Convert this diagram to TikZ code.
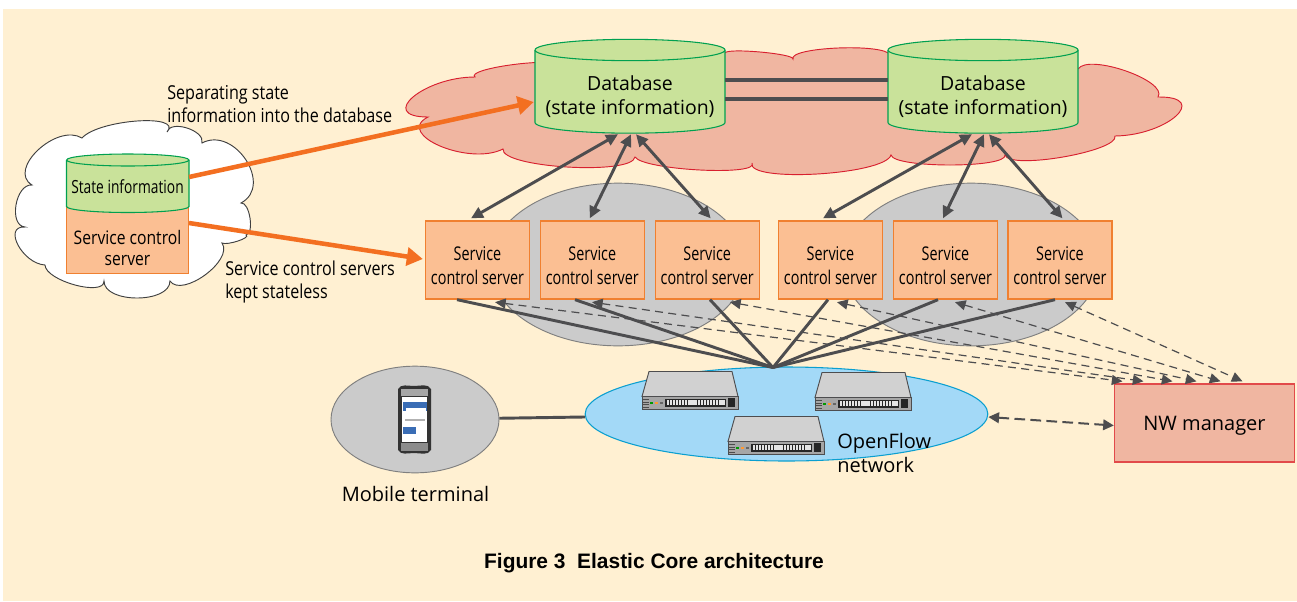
\documentclass[tikz,border=0pt]{standalone}
\usepackage{fontspec}
\setmainfont{Open Sans}
\newfontfamily\condf[FakeStretch=0.84]{Open Sans}
\newfontfamily\condg[FakeStretch=0.76]{Open Sans}
\newfontfamily\capf{Liberation Sans}
\usetikzlibrary{arrows.meta,calc,shapes.geometric}
\definecolor{cream}{HTML}{FFF0D2}
\definecolor{dbfill}{HTML}{C9E29A}
\definecolor{dbline}{HTML}{00A050}
\definecolor{srvfill}{HTML}{FBBF93}
\definecolor{srvline}{HTML}{F08030}
\definecolor{pinkfill}{HTML}{F0B6A1}
\definecolor{pinkline}{HTML}{D8202F}
\definecolor{nwline}{HTML}{E24A4A}
\definecolor{grayfill}{HTML}{CBCBCB}
\definecolor{grayline}{HTML}{7F7F7F}
\definecolor{bluefill}{HTML}{A3D9F7}
\definecolor{blueline}{HTML}{0A9FD0}
\definecolor{darkl}{HTML}{4D4D4F}
\definecolor{orangea}{HTML}{F36F21}
\definecolor{phoneblue}{HTML}{3A6DB5}
\newcommand\cbump[6]{.. controls ({#1+4/3*(#3-0.5*(#1+#5))},{#2+4/3*(#4-0.5*(#2+#6))}) and ({#5+4/3*(#3-0.5*(#1+#5))},{#6+4/3*(#4-0.5*(#2+#6))}) .. (#5,#6)}
\newcommand\dnstrut[1]{\rule{0pt}{#1}}
\newcommand\cylbody[5]{% x1,x2,ytopcentre,ybotside,ry(pt)
  \draw[cylstyle] (#1,#3) -- (#1,#4) arc[start angle=180,end angle=360,x radius={(#2-#1)*0.375pt},y radius=#5] -- (#2,#3) arc[start angle=0,end angle=180,x radius={(#2-#1)*0.375pt},y radius=#5];
  \draw[cylstyle] (#1,#3) arc[start angle=180,end angle=360,x radius={(#2-#1)*0.375pt},y radius=#5];
}
\newcommand\switchbox[2]{%
  \begin{scope}[shift={(#1,#2)}]
    \fill[draw=darkl,line width=.7pt,fill=black!18] (7,0) -- (90,0) -- (96,25) -- (0,25) -- cycle;
    \fill[draw=darkl,line width=.7pt,fill=black!35] (0,25) rectangle (96,38);
    \fill[black!85] (23,27) rectangle (84,35);
    \fill[black!85] (86,26.5) rectangle (93,35.5);
    \foreach \i in {0,...,18} {\fill[white!90!black] (24.5+\i*3.1,28.5) rectangle +(2.3,4.5);}
    \fill[green!60!black] (8,30) rectangle +(3,2);
    \fill[orange!80] (13,30) rectangle +(3,2);
    \fill[black!60] (18,30) rectangle +(3,2);
    \foreach \i in {0,...,3} {\draw[black!70,line width=.4pt] (1,28+\i*2.5) -- (7,28+\i*2.5);}
  \end{scope}
}
\tikzset{
  x=0.75pt,y=-0.75pt,
  cylstyle/.style={draw=dbline,fill=dbfill,line width=.8pt},
  cloudP/.style={draw=pinkline,fill=pinkfill,line width=.7pt},
  cloudW/.style={draw=black!75,fill=white,line width=.7pt},
  anchorbox/.style={draw=none,fill=none,inner sep=0pt,minimum width=142.5pt,minimum height=70.5pt,align=center,font=\fontsize{14.6}{18}\selectfont},
  srvbox/.style={draw=srvline,fill=srvfill,line width=1pt,inner sep=0pt,minimum width=78pt,minimum height=58.5pt,align=center,font=\condg\fontsize{14.2}{18}\selectfont},
  grayell/.style={ellipse,draw=grayline,fill=grayfill,line width=.7pt,inner sep=0pt},
  dbl/.style={draw=darkl,line width=2.2pt,{Triangle[length=9pt,width=8.5pt]}-{Triangle[length=9pt,width=8.5pt]}},
  hubl/.style={draw=darkl,line width=2.2pt},
  dashl/.style={draw=darkl,line width=.9pt,dash pattern=on 6pt off 4pt,{Triangle[length=8pt,width=7.5pt]}-{Triangle[length=8pt,width=7.5pt]}},
  oar/.style={draw=orangea,line width=3.4pt,-{Triangle[length=12pt,width=13.5pt]}},
  condtext/.style={inner sep=0pt,font=\condf\fontsize{14.4}{17.3}\selectfont},
}
\begin{document}
\begin{tikzpicture}
\useasboundingbox (0,0) rectangle (1297,601);
\fill[white] (0,0) rectangle (1297,601);
\fill[cream] (3,9) rectangle (1297,601);

% pink cloud
\draw[cloudP] (475,77) \cbump{475}{77}{510}{65}{560}{65} -- (725,53)
 \cbump{725}{53}{760}{52}{793}{59}
 \cbump{793}{59}{838}{48}{890}{55} -- (1078,69)
 \cbump{1078}{69}{1126}{71}{1158}{97}
 \cbump{1158}{97}{1176}{116}{1115}{136}
 \cbump{1115}{136}{1063}{157}{1005}{155}
 \cbump{1005}{155}{950}{165}{891}{155}
 \cbump{891}{155}{817}{174}{752}{163}
 \cbump{752}{163}{700}{170}{635}{157}
 \cbump{635}{157}{567}{167}{503}{149}
 \cbump{503}{149}{440}{146}{428}{117}
 \cbump{428}{117}{413}{97}{475}{77} -- cycle;

% white cloud
\draw[cloudW] (82,138) \cbump{82}{138}{137}{121}{167}{132}
 \cbump{167}{132}{187}{128}{202}{143}
 \cbump{202}{143}{246}{160}{241}{203}
 \cbump{241}{203}{250}{218}{246}{235}
 \cbump{246}{235}{238}{241}{222}{243}
 \cbump{222}{243}{205}{275}{170}{281}
 \cbump{170}{281}{137}{298}{104}{281}
 \cbump{104}{281}{75}{285}{45}{265}
 \cbump{45}{265}{18}{245}{25}{227}
 \cbump{25}{227}{16}{205}{32}{185}
 \cbump{32}{185}{38}{150}{82}{138} -- cycle;

% grey ellipses
\node[grayell,minimum width=192pt,minimum height=122pt] (g1) at (618,264.5) {};
\node[grayell,minimum width=192pt,minimum height=122pt] (g2) at (971,264.5) {};
\node[grayell,minimum width=126pt,minimum height=80pt] (gm) at (415,419.5) {};
\node[ellipse,draw=blueline,fill=bluefill,line width=.8pt,inner sep=0pt,minimum width=302pt,minimum height=70.5pt] (of) at (786.5,414) {};

% left stack
\node[draw=srvline,fill=srvfill,line width=.8pt,inner sep=0pt,minimum width=92pt,minimum height=50pt,align=center,font=\condf\fontsize{14}{16}\selectfont] (scs) at (127.5,240.5) {\dnstrut{22pt}Service control\\server};
\cylbody{66.5}{189}{160}{206.5}{4.5pt}
\node[inner sep=0pt,minimum width=92pt,minimum height=39pt,font=\condg\fontsize{13.6}{14}\selectfont] (si) at (127.5,183) {\dnstrut{16pt}State information};

% databases
\cylbody{535}{725}{50}{122.5}{8pt}
\cylbody{888}{1078}{50}{122.5}{8pt}
\node[anchorbox] (db1) at (630,86) {\dnstrut{27pt}Database\\(state information)};
\node[anchorbox] (db2) at (983,86) {\dnstrut{27pt}Database\\(state information)};

% servers
\node[srvbox] (s1) at (477.5,260) {\dnstrut{19pt}Service\\control server};
\node[srvbox] (s2) at (592.3,260) {\dnstrut{19pt}Service\\control server};
\node[srvbox] (s3) at (707.2,260) {\dnstrut{19pt}Service\\control server};
\node[srvbox] (s4) at (830.5,260) {\dnstrut{19pt}Service\\control server};
\node[srvbox] (s5) at (945.5,260) {\dnstrut{19pt}Service\\control server};
\node[srvbox] (s6) at (1060,260) {\dnstrut{19pt}Service\\control server};

% NW manager
\node[draw=nwline,fill=pinkfill,line width=1pt,inner sep=0pt,minimum width=135pt,minimum height=58.5pt,font=\fontsize{15}{16}\selectfont] (nw) at (1204.5,423) {\dnstrut{15pt}NW manager};

% switches
\switchbox{642}{371.5}
\switchbox{815}{372.5}
\switchbox{728}{416.5}

% phone
\fill[black!80] (398,389) to[out=60,in=180] (414,386) to[out=0,in=120] (431,389) -- (431,450) to[out=240,in=0] (414,453) to[out=180,in=300] (398,450) -- cycle;
\fill[black!35] (401,389) rectangle (428,396);
\fill[white] (402,397) rectangle (427,442);
\fill[phoneblue] (402.5,402) rectangle (426.5,411);
\fill[white] (406,407.5) rectangle (426,410.5);
\fill[black!30] (405,419) rectangle (425,421);
\fill[phoneblue] (403,427) rectangle (416,434);
\fill[black!45] (401,443) rectangle (428,451);

% coordinates
\coordinate (hub) at (773,367.5);

% connectors
\draw[hubl] (gm) -- (of);
\draw[draw=darkl,line width=3pt] (db1.east |- 0,80) -- (db2.west |- 0,80);
\draw[draw=darkl,line width=3pt] (db1.east |- 0,99.3) -- (db2.west |- 0,99.3);

\foreach \a/\sx/\b/\dx in {s1/-6.5/db1/-12, s2/-2.5/db1/1, s3/3.5/db1/6, s4/-7.5/db2/-11, s5/-2.5/db2/1, s6/2.5/db2/6}{
  \draw[dbl] ($(\a.north)+(\sx,-2)$) -- ($(\b.south)+(\dx,1)$);
}
\foreach \a/\sx in {s1/-20.5, s2/-17.3, s3/2.8, s4/-2.5, s5/-7.5, s6/-5}{
  \draw[hubl] ($(\a.south)+(\sx,0)$) -- (hub);
}
\foreach \a/\sx/\nx in {s1/17.5/-82, s2/-0.3/-61, s3/22.8/-32, s4/6.5/-8, s5/9.5/16, s6/5/38}{
  \draw[dashl] ($(\a.south)+(\sx,2.5)$) -- ($(nw.north)+(\nx,-2)$);
}
\draw[darkl,line width=1.5pt,dash pattern=on 8pt off 4pt,{Triangle[length=8pt,width=8pt]}-{Triangle[length=8pt,width=8pt]}] (of.east |- 0,417) -- (nw.west |- 0,425.5);

\draw[oar] (189,177) -- ($(db1.west)+(-1,16)$);
\draw[oar] (189,223) -- ($(s1.west)+(-2,-1)$);

% texts
\node[condtext,anchor=west,align=left] (t1) at (167,104.5) {Separating state\\information into the database};
\node[condtext,anchor=west,align=left] (t2) at (225,282) {Service control servers\\kept stateless};
\node[inner sep=0pt,font=\fontsize{15}{16}\selectfont] (t3) at (415.5,494) {Mobile terminal};
\node[inner sep=0pt,anchor=west,align=left,font=\fontsize{15}{17.5}\selectfont] (t4) at (837,453) {OpenFlow\\network};
\node[inner sep=0pt,font=\capf\bfseries\fontsize{15.7}{18}\selectfont] (cap) at (654,563) {Figure 3\ \ Elastic Core architecture};
\end{tikzpicture}
\end{document}
